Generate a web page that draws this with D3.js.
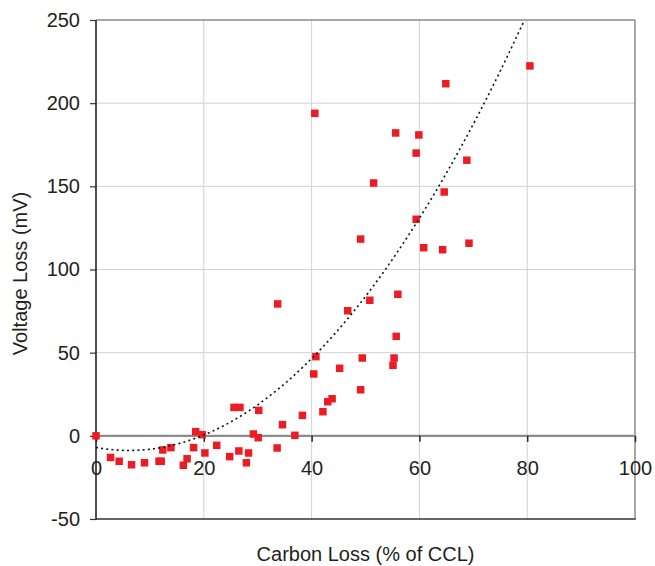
<!DOCTYPE html>
<html>
<head>
<meta charset="utf-8">
<script src="https://cdn.jsdelivr.net/npm/d3@7"></script>
<style>
  html, body { margin: 0; padding: 0; background: #fff; }
  svg { display: block; font-family: "Liberation Sans", Arial, sans-serif; }
</style>
</head>
<body>
<svg id="chart" width="655" height="566"></svg>
<script>
// ---- data ----
const carbonLoss = [0, 2.7, 4.3, 6.6, 9.0, 11.7, 12.1, 12.4, 13.9, 16.2, 16.9, 18.1, 18.5, 19.7, 20.2, 22.4, 24.8, 25.6, 26.7, 26.5, 27.9, 28.3, 29.2, 30.1, 30.2, 33.6, 33.7, 34.6, 36.9, 38.3, 40.4, 40.8, 40.6, 42.1, 43.0, 43.8, 45.2, 46.7, 49.1, 49.4, 49.1, 50.8, 51.5, 55.1, 55.3, 55.7, 56.0, 55.6, 59.4, 59.4, 59.9, 60.8, 64.3, 64.6, 64.9, 68.8, 69.2, 80.5];
const voltageLoss = [0, -13, -15.3, -17.4, -16.2, -15.3, -15.3, -8.5, -7.1, -17.7, -13.8, -7.1, 2.5, 0.7, -10.3, -5.7, -12.5, 17.1, 17.1, -9.1, -16.2, -10.3, 1.1, -1.1, 15.3, -7.3, 79.3, 6.7, 0.3, 12.3, 37.2, 47.6, 193.9, 14.5, 20.5, 22.3, 40.6, 75.2, 27.7, 46.8, 118.3, 81.5, 152, 42.4, 46.8, 59.8, 85.1, 182.1, 170, 130.2, 180.9, 113.1, 111.9, 146.6, 211.7, 165.7, 115.8, 222.4];
// polynomial trendline (order 2) coefficients: c0 + c1*x + c2*x^2
const trendCoeffs = [-7, -0.586, 0.04805];
const xTicks = [0, 20, 40, 60, 80, 100];
const yTicks = [-50, 0, 50, 100, 150, 200, 250];
const xDomain = [0, 100];
const yDomain = [-50, 250];
const xTitle = "Carbon Loss (% of CCL)";
const yTitle = "Voltage Loss (mV)";

// ---- layout ----
const pLeft = 96, pRight = 635, pTop = 20, pBottom = 519;
const svg = d3.select("#chart");
const x = d3.scaleLinear().domain(xDomain).range([pLeft, pRight]);
const y = d3.scaleLinear().domain(yDomain).range([pBottom, pTop]);
const textColor = "#231f20";
const fmt = d => String(d);

// grid
const grid = svg.append("g");
grid.selectAll("line.gx").data(xTicks.filter(d => d > 0 && d < 100)).join("line")
  .attr("x1", d => x(d)).attr("x2", d => x(d)).attr("y1", pTop).attr("y2", pBottom)
  .attr("stroke", "#d2d2d2").attr("stroke-width", 1);
grid.selectAll("line.gy").data(yTicks.filter(d => d > -50 && d < 250 && d !== 0)).join("line")
  .attr("x1", pLeft).attr("x2", pRight).attr("y1", d => y(d)).attr("y2", d => y(d))
  .attr("stroke", "#d2d2d2").attr("stroke-width", 1);

// top and right border
svg.append("line").attr("x1", pLeft).attr("x2", pRight).attr("y1", y(250)).attr("y2", y(250))
  .attr("stroke", "#8a8a8a").attr("stroke-width", 1.5);
svg.append("line").attr("x1", pRight).attr("x2", pRight).attr("y1", pTop).attr("y2", pBottom)
  .attr("stroke", "#8a8a8a").attr("stroke-width", 1.5);
// bottom border
svg.append("line").attr("x1", pLeft).attr("x2", pRight + 0.75).attr("y1", pBottom).attr("y2", pBottom)
  .attr("stroke", "#333").attr("stroke-width", 1.5);

// zero line (x axis)
svg.append("line").attr("x1", pLeft).attr("x2", pRight).attr("y1", y(0)).attr("y2", y(0))
  .attr("stroke", "#8c8c8c").attr("stroke-width", 2.2);

// x axis ticks + labels at y = 0
const xAxis = svg.append("g").attr("transform", `translate(0,${y(0)})`)
  .call(d3.axisBottom(x).tickValues(xTicks).tickSize(6).tickPadding(19).tickFormat(fmt));
xAxis.select(".domain").remove();
xAxis.selectAll(".tick line").attr("stroke", "#222").attr("stroke-width", 1.5);
xAxis.selectAll(".tick text").attr("fill", textColor).style("font-size", "20px")
  .style("font-family", "'Liberation Sans', Arial, sans-serif");

// y axis
const yAxis = svg.append("g").attr("transform", `translate(${pLeft},0)`)
  .call(d3.axisLeft(y).tickValues(yTicks).tickSize(6).tickPadding(10).tickFormat(fmt));
yAxis.select(".domain").remove();
yAxis.selectAll(".tick line").attr("stroke", "#333").attr("stroke-width", 1.2);
yAxis.selectAll(".tick text").attr("fill", textColor).style("font-size", "20px")
  .style("font-family", "'Liberation Sans', Arial, sans-serif");
svg.append("line").attr("x1", pLeft).attr("x2", pLeft).attr("y1", pTop).attr("y2", pBottom + 0.75)
  .attr("stroke", "#222").attr("stroke-width", 1.6);

// points
const pts = carbonLoss.map((c, i) => ({ c, v: voltageLoss[i] }));
const s = 7.5;
svg.append("g").selectAll("rect").data(pts).join("rect")
  .attr("x", d => x(d.c) - s / 2).attr("y", d => y(d.v) - s / 2)
  .attr("width", s).attr("height", s)
  .attr("fill", "#ec1c24");

// trendline
const trendX = d3.range(0, 100.01, 0.25);
const poly = t => trendCoeffs[0] + trendCoeffs[1] * t + trendCoeffs[2] * t * t;
const trendPts = trendX.map(t => [t, poly(t)]).filter(p => p[1] <= 250);
svg.append("path")
  .attr("d", d3.line().x(p => x(p[0])).y(p => y(p[1]))(trendPts))
  .attr("fill", "none").attr("stroke", "#111").attr("stroke-width", 1.6)
  .attr("stroke-dasharray", "2,3.2");

// titles
svg.append("text").attr("x", (pLeft + pRight) / 2).attr("y", 561)
  .attr("text-anchor", "middle").attr("fill", textColor).style("font-size", "20px")
  .text(xTitle);
svg.append("text").attr("transform", `translate(27,${(pTop + pBottom) / 2 + 4}) rotate(-90)`)
  .attr("text-anchor", "middle").attr("fill", textColor).style("font-size", "20px")
  .text(yTitle);
</script>
</body>
</html>
